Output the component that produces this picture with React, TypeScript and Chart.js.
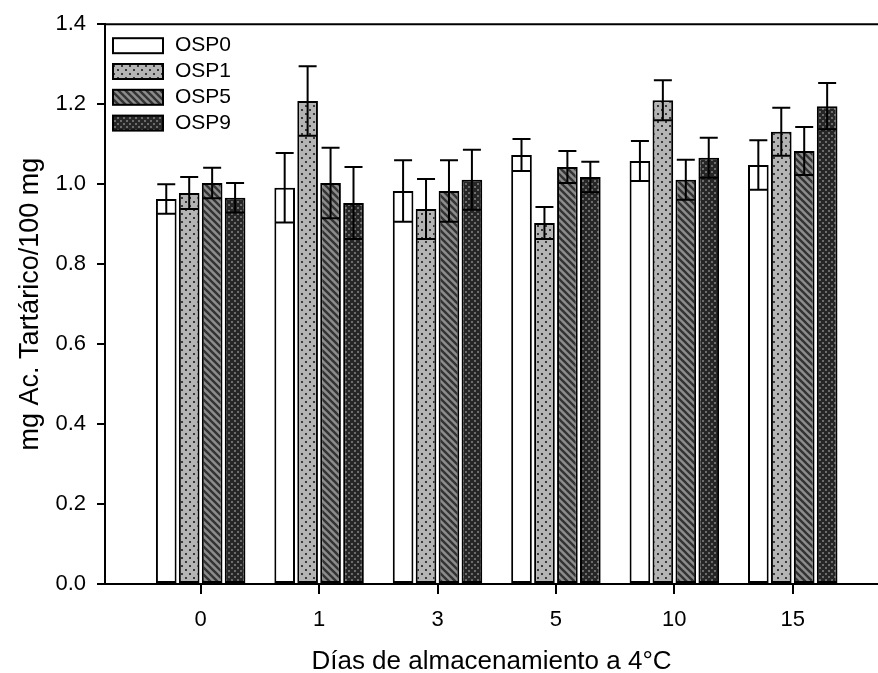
import React, { useEffect, useRef } from 'react';
import { Chart, registerables } from 'chart.js';

Chart.register(...registerables);

// Storage days (x categories)
const categories = ['0', '1', '3', '5', '10', '15'];
const seriesNames = ['OSP0', 'OSP1', 'OSP5', 'OSP9'];

// Mean tartaric acid content (mg / 100 mg)
const osp0 = [0.963, 0.991, 0.983, 1.073, 1.058, 1.048];
const osp1 = [0.978, 1.208, 0.938, 0.903, 1.21, 1.131];
const osp5 = [1.003, 1.003, 0.983, 1.043, 1.011, 1.083];
const osp9 = [0.966, 0.953, 1.011, 1.018, 1.066, 1.195];

// Standard deviations
const err0 = [0.037, 0.087, 0.077, 0.04, 0.05, 0.062];
const err1 = [0.04, 0.087, 0.075, 0.04, 0.05, 0.06];
const err5 = [0.038, 0.088, 0.077, 0.04, 0.05, 0.06];
const err9 = [0.037, 0.09, 0.075, 0.038, 0.05, 0.058];

const yMin = 0;
const yMax = 1.4;
const yStep = 0.2;

const seriesValues = [osp0, osp1, osp5, osp9];
const seriesErrors = [err0, err1, err5, err9];

const FONT = "'Liberation Sans', Arial, Helvetica, sans-serif";

type PatternKind = 'plain' | 'dots' | 'hatch' | 'mesh';
const patternKinds: PatternKind[] = ['plain', 'dots', 'hatch', 'mesh'];

function makePattern(kind: PatternKind): CanvasPattern | string {
  if (kind === 'plain') return '#ffffff';
  const c = document.createElement('canvas');
  const g = c.getContext('2d')!;
  if (kind === 'dots') {
    c.width = 8;
    c.height = 8;
    g.fillStyle = '#b4b4b4';
    g.fillRect(0, 0, 8, 8);
    g.fillStyle = '#383838';
    g.fillRect(1, 1, 2, 2);
    g.fillRect(5, 5, 2, 2);
  } else if (kind === 'hatch') {
    const s = 7;
    c.width = s;
    c.height = s;
    g.fillStyle = '#8c8c8c';
    g.fillRect(0, 0, s, s);
    g.strokeStyle = '#333333';
    g.lineWidth = 2.4;
    for (let k = -1; k <= 1; k++) {
      g.beginPath();
      g.moveTo(-1, -1 + k * s);
      g.lineTo(s + 1, s + 1 + k * s);
      g.stroke();
    }
  } else {
    c.width = 6;
    c.height = 6;
    g.fillStyle = '#262626';
    g.fillRect(0, 0, 6, 6);
    g.fillStyle = '#6c6c6c';
    g.fillRect(0, 0, 2, 2);
    g.fillRect(3, 3, 2, 2);
  }
  return g.createPattern(c, 'repeat')!;
}

const errorBarPlugin = {
  id: 'errorBars',
  afterDatasetsDraw(chart: any) {
    const { ctx } = chart;
    const y = chart.scales.y;
    ctx.save();
    ctx.strokeStyle = '#000';
    ctx.lineWidth = 2;
    chart.data.datasets.forEach((_ds: any, di: number) => {
      const meta = chart.getDatasetMeta(di);
      const vals = seriesValues[di];
      const errs = seriesErrors[di];
      meta.data.forEach((bar: any, i: number) => {
        const hi = y.getPixelForValue(vals[i] + errs[i]);
        const lo = y.getPixelForValue(vals[i] - errs[i]);
        const half = Math.min(9, bar.width / 2 - 1);
        ctx.beginPath();
        ctx.moveTo(bar.x, hi);
        ctx.lineTo(bar.x, lo);
        ctx.moveTo(bar.x - half, hi);
        ctx.lineTo(bar.x + half, hi);
        ctx.moveTo(bar.x - half, lo);
        ctx.lineTo(bar.x + half, lo);
        ctx.stroke();
      });
    });
    ctx.restore();
  },
};

const framePlugin = {
  id: 'topFrame',
  afterDraw(chart: any) {
    const { ctx, chartArea } = chart;
    ctx.save();
    ctx.strokeStyle = '#000';
    ctx.lineWidth = 2;
    ctx.beginPath();
    ctx.moveTo(chartArea.left, chartArea.top);
    ctx.lineTo(chartArea.right, chartArea.top);
    ctx.stroke();
    ctx.restore();
  },
};

const legendPlugin = {
  id: 'boxLegend',
  afterDraw(chart: any) {
    const { ctx, chartArea } = chart;
    const x0 = chartArea.left + 8;
    const y0 = chartArea.top + 14;
    const boxW = 50;
    const boxH = 15;
    const rowH = 25.8;
    ctx.save();
    ctx.font = `21px ${FONT}`;
    ctx.textBaseline = 'middle';
    ctx.textAlign = 'left';
    chart.data.datasets.forEach((ds: any, i: number) => {
      const top = y0 + i * rowH;
      ctx.fillStyle = ds.backgroundColor;
      ctx.fillRect(x0, top, boxW, boxH);
      ctx.strokeStyle = '#000';
      ctx.lineWidth = 2;
      ctx.strokeRect(x0, top, boxW, boxH);
      ctx.fillStyle = '#000';
      ctx.fillText(ds.label, x0 + boxW + 12, top + boxH / 2);
    });
    ctx.restore();
  },
};

export default function App() {
  const canvasRef = useRef<HTMLCanvasElement>(null);

  useEffect(() => {
    const canvas = canvasRef.current;
    if (!canvas) return;

    const datasets = seriesNames.map((name, di) => ({
      label: name,
      data: seriesValues[di].map((v, i) => ({ x: i, y: v })),
      backgroundColor: makePattern(patternKinds[di]) as any,
      borderColor: '#000',
      borderWidth: 2,
      borderSkipped: false as any,
      categoryPercentage: 0.775,
      barPercentage: 0.9,
    }));

    const chart = new Chart(canvas, {
      type: 'bar',
      data: { datasets },
      plugins: [errorBarPlugin, framePlugin, legendPlugin],
      options: {
        animation: false,
        responsive: false,
        devicePixelRatio: 1,
        layout: { padding: { top: 23, left: 0, right: 0, bottom: 0 } },
        plugins: {
          legend: { display: false },
          tooltip: { enabled: false },
        },
        scales: {
          x: {
            type: 'linear',
            min: -0.808,
            max: 5.72,
            offset: false,
            afterBuildTicks(scale: any) {
              scale.ticks = categories.map((_c, i) => ({ value: i }));
            },
            afterFit(scale: any) {
              scale.height = 89;
            },
            grid: {
              display: true,
              offset: false,
              drawOnChartArea: false,
              drawTicks: true,
              tickLength: 10,
              color: '#000',
              lineWidth: 2,
            },
            border: { display: true, color: '#000', width: 2 },
            ticks: {
              autoSkip: false,
              maxRotation: 0,
              padding: 13,
              color: '#000',
              font: { family: FONT, size: 22 },
              callback: (v: any) => categories[Math.round(Number(v))] ?? '',
            },
            title: {
              display: true,
              text: 'Días de almacenamiento a 4°C',
              color: '#000',
              font: { family: FONT, size: 26, lineHeight: 1 },
              padding: { top: 0, bottom: -2 },
            },
          },
          y: {
            type: 'linear',
            min: yMin,
            max: yMax,
            afterFit(scale: any) {
              scale.width = 105;
            },
            grid: {
              display: true,
              drawOnChartArea: false,
              drawTicks: true,
              tickLength: 8,
              color: '#000',
              lineWidth: 2,
            },
            border: { display: true, color: '#000', width: 2 },
            ticks: {
              stepSize: yStep,
              padding: 11,
              color: '#000',
              font: { family: FONT, size: 22 },
              callback: (v: any) => Number(v).toFixed(1),
            },
            title: {
              display: true,
              text: 'mg Ac. Tartárico/100 mg',
              color: '#000',
              font: { family: FONT, size: 27, lineHeight: 1 },
              padding: { top: 17, bottom: 0 },
            },
          },
        },
      } as any,
    });

    return () => chart.destroy();
  }, []);

  return (
    <div style={{ position: 'fixed', left: 0, top: 0, width: 878, height: 673, background: '#fff' }}>
      <canvas ref={canvasRef} width={878} height={673} style={{ display: 'block' }} />
    </div>
  );
}
